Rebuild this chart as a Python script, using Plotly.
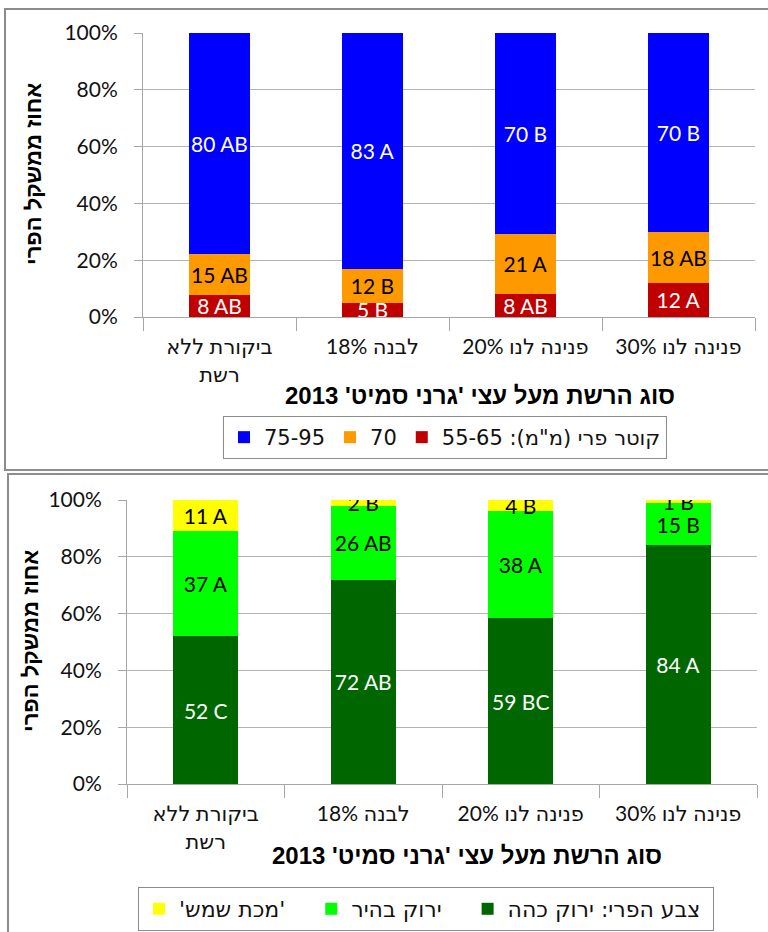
import plotly.graph_objects as go

# ---------------- data ----------------
categories = ["ביקורת ללא<br>רשת", "לבנה 18%", "פנינה לנו 20%", "פנינה לנו 30%"]

size_names = ['קוטר פרי (מ"מ): 55-65', "70", "75-95"]
size_55_65 = [8, 5, 8, 12]
size_70 = [15, 12, 21, 18]
size_75_95 = [80, 83, 70, 70]
size_55_65_grp = ["AB", "B", "AB", "A"]
size_70_grp = ["AB", "B", "A", "AB"]
size_75_95_grp = ["AB", "A", "B", "B"]

color_names = ["צבע הפרי: ירוק כהה", "ירוק בהיר", "'מכת שמש'"]
dark_green = [52, 72, 59, 84]
light_green = [37, 26, 38, 15]
sunburn = [11, 2, 4, 1]
dark_green_grp = ["C", "AB", "BC", "A"]
light_green_grp = ["A", "AB", "A", "B"]
sunburn_grp = ["A", "B", "B", "B"]

y_tick_vals = [0, 20, 40, 60, 80, 100]
y_tick_text = ["0%", "20%", "40%", "60%", "80%", "100%"]
y_title = "אחוז ממשקל הפרי"
x_title = "סוג הרשת מעל עצי 'גרני סמיט' 2013"

# ---------------- styling ----------------
W, H = 768, 932
LABEL_FONT = "Lato, DejaVu Sans, sans-serif"
CAT_FONT = "Lato, DejaVu Sans, sans-serif"
TITLE_FONT = "Liberation Sans, Arial, sans-serif"
LEG_FONT = "DejaVu Sans, sans-serif"
GRID = "#b4b4b4"
AXIS = "#a6a6a6"
NBSP = "\u00a0"


def px_x(x):
    return x / W


def px_y(y):
    return 1 - y / H


def labels(vals, grps):
    return [f"{v} {g}" for v, g in zip(vals, grps)]


fig = go.Figure()

top_series = [
    (size_names[0], size_55_65, size_55_65_grp, "#C00000", "white"),
    (size_names[1], size_70, size_70_grp, "#FF9900", "black"),
    (size_names[2], size_75_95, size_75_95_grp, "#0000FF", "white"),
]
for name, vals, grps, col, tcol in top_series:
    fig.add_trace(go.Bar(
        x=categories, y=vals, name=name, marker=dict(color=col, line=dict(width=0)),
        text=labels(vals, grps), textposition="inside", insidetextanchor="middle",
        textangle=0, textfont=dict(family=LABEL_FONT, size=21, color=tcol),
        width=0.4, xaxis="x", yaxis="y", legend="legend", hoverinfo="skip",
    ))

# trailing no-break spaces only widen the gaps between legend entries
bottom_pad = [1, 3, 3]
bottom_series = [
    (color_names[0], dark_green, dark_green_grp, "#006600", "white"),
    (color_names[1], light_green, light_green_grp, "#00FF00", "black"),
    (color_names[2], sunburn, sunburn_grp, "#FFFF00", "black"),
]
for (name, vals, grps, col, tcol), pad in zip(bottom_series, bottom_pad):
    fig.add_trace(go.Bar(
        x=categories, y=vals, name=name + NBSP * pad,
        marker=dict(color=col, line=dict(width=0)),
        text=labels(vals, grps), textposition="inside", insidetextanchor="middle",
        textangle=0, textfont=dict(family=LABEL_FONT, size=21, color=tcol),
        width=0.41, xaxis="x2", yaxis="y2", legend="legend2", hoverinfo="skip",
    ))

xaxis_common = dict(
    type="category", showgrid=False, showline=True, linecolor=AXIS, linewidth=1,
    ticks="outside", tickson="boundaries", ticklen=13, tickcolor=AXIS,
    ticklabelstandoff=11,
    tickfont=dict(family=CAT_FONT, size=21, color="#111"), automargin=False,
)
yaxis_common = dict(
    range=[0, 100], tickmode="array", tickvals=y_tick_vals, ticktext=y_tick_text,
    showgrid=True, gridcolor=GRID, gridwidth=1, showline=True, linecolor=AXIS,
    linewidth=1, ticks="outside", ticklen=8, tickcolor=AXIS, ticklabelstandoff=12,
    tickfont=dict(family=LABEL_FONT, size=21, color="#111"), zeroline=False,
    automargin=False,
)

fig.update_layout(
    width=W, height=H, autosize=False,
    margin=dict(l=0, r=0, t=0, b=0, pad=0, autoexpand=False),
    paper_bgcolor="white", plot_bgcolor="white",
    barmode="stack", barnorm="percent",
    uniformtext=dict(minsize=21, mode="show"),
    xaxis=dict(domain=[px_x(143), px_x(755)], anchor="y", **xaxis_common),
    yaxis=dict(domain=[px_y(317), px_y(33)], anchor="x", **yaxis_common),
    xaxis2=dict(domain=[px_x(127), px_x(757)], anchor="y2", **xaxis_common),
    yaxis2=dict(domain=[px_y(784), px_y(500)], anchor="x2", **yaxis_common),
    legend=dict(
        orientation="h", traceorder="reversed", x=px_x(223), y=px_y(416),
        xanchor="left", yanchor="top", bordercolor="#8c8c8c", borderwidth=1,
        font=dict(family=LEG_FONT, size=21, color="#111"), bgcolor="white",
    ),
    legend2=dict(
        orientation="h", traceorder="reversed", x=px_x(138), y=px_y(887),
        xanchor="left", yanchor="top", bordercolor="#8c8c8c", borderwidth=1,
        font=dict(family=LEG_FONT, size=22, color="#111"), bgcolor="white",
    ),
    showlegend=True,
)

# frames around the two chart panels
fig.add_shape(type="rect", xref="paper", yref="paper",
              x0=px_x(5), x1=1.02, y0=px_y(470), y1=px_y(9),
              line=dict(color="#8c8c8c", width=2), layer="below")
fig.add_shape(type="rect", xref="paper", yref="paper",
              x0=px_x(8), x1=1.02, y0=-0.02, y1=px_y(474),
              line=dict(color="#8c8c8c", width=2), layer="below")

title_font = dict(family=TITLE_FONT, size=22, color="black")
common_ann = dict(xref="paper", yref="paper", showarrow=False,
                  xanchor="center", yanchor="middle")
fig.add_annotation(text=f"<b>{y_title}</b>", textangle=-90,
                   x=px_x(33), y=px_y(174), font=title_font, **common_ann)
fig.add_annotation(text=f"<b>{y_title}</b>", textangle=-90,
                   x=px_x(30), y=px_y(641), font=title_font, **common_ann)
fig.add_annotation(text=f"<b>{x_title}</b>",
                   x=px_x(480), y=px_y(395), font=dict(title_font, size=24), **common_ann)
fig.add_annotation(text=f"<b>{x_title}</b>",
                   x=px_x(467), y=px_y(855), font=dict(title_font, size=24), **common_ann)

fig.write_html(
    "out.html",
    config={"displayModeBar": False},
    post_script="document.body.style.margin='0';document.body.style.padding='0';",
)
